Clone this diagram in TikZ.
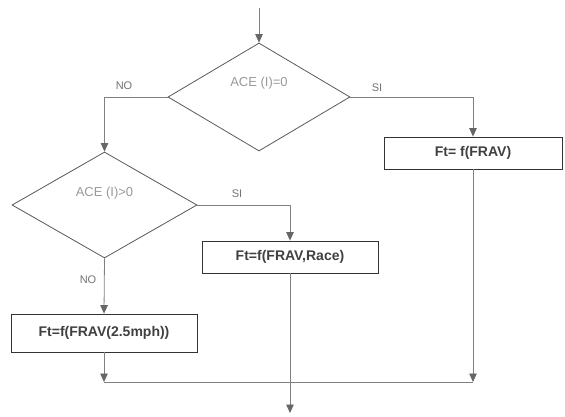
\documentclass[tikz,border=0pt]{standalone}
\usepackage{fontspec}
\setmainfont{Liberation Sans}
\usetikzlibrary{shapes.geometric,arrows.meta}

\begin{document}
\begin{tikzpicture}[
x=1pt, y=-1pt,
decision/.style={diamond, draw=black!65, line width=0.8pt,
  minimum width=182pt, minimum height=108pt, inner sep=0pt},
condtext/.style={font=\fontsize{13}{15}\selectfont, text=black!40},
process/.style={rectangle, draw=black!80, line width=0.8pt,
  minimum height=32pt, font=\fontsize{14}{17}\selectfont\bfseries, text=black!75},
flow/.style={draw=black!50, line width=0.8pt},
tip/.style={-{Triangle[width=7.5pt,length=8.5pt,color=black!60]}},
answer/.style={font=\fontsize{11}{13}\selectfont, text=black!55},
]
\useasboundingbox (0,0) rectangle (565,417);

\node[decision, label={[condtext,yshift=14pt]center:ACE (I)=0}] (test0) at (259,97) {};
\node[decision, minimum width=185pt, minimum height=106pt,
  label={[condtext,yshift=12pt]center:ACE (I)>0}] (test1) at (104.5,205) {};

\node[process, minimum width=178pt] (frav) at (473,153) {Ft= f(FRAV)};
\node[process, minimum width=176pt] (race) at (290,257) {Ft=f(FRAV,Race)};
\node[process, minimum width=186pt, minimum height=38pt] (mph) at (104,333) {Ft=f(FRAV(2.5mph))};

\coordinate (start) at (259,8);
\coordinate (joinL) at (104,382);
\coordinate (joinR) at (473,382);
\coordinate (stop) at (290,413);

\draw[flow,tip] (start) -- (test0);
\draw[flow,tip] (test0.west) -| (test1.north);
\draw[flow,tip] (test0.east) -| (frav.north);
\draw[flow,tip] (test1.east) -| (race.north);
\draw[flow,tip] (test1.south) -- (mph.north);
\draw[flow,tip] (mph.south) -- (joinL);
\draw[flow,tip] (frav.south) -- (joinR);
\draw[flow] (joinL) -- (joinR);
\draw[flow,tip] (race.south) -- (stop);

\node[answer] (no0) at (124,86) {NO};
\node[answer] (si0) at (377,88) {SI};
\node[answer] (si1) at (237,194) {SI};
\node[answer] (no1) at (88,280) {NO};
\end{tikzpicture}
\end{document}
